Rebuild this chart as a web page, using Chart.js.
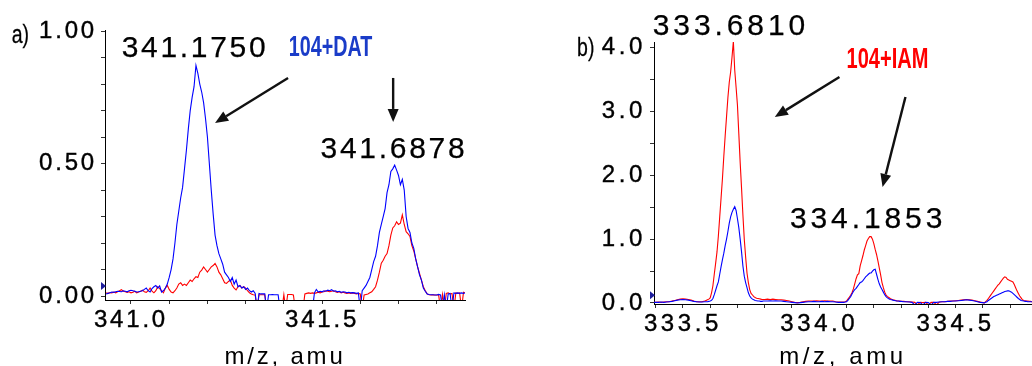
<!DOCTYPE html>
<html><head><meta charset="utf-8">
<script src="https://cdn.jsdelivr.net/npm/chart.js@4.4.1/dist/chart.umd.min.js"></script>
<style>
html,body{margin:0;padding:0;background:#fff;width:1032px;height:366px;overflow:hidden}
#ca{position:absolute;left:0;top:0}
#cb{position:absolute;left:520px;top:0}
</style></head><body>
<canvas id="ca" width="520" height="366"></canvas>
<canvas id="cb" width="512" height="366"></canvas>
<script>
// ---------- Panel a) 104+DAT ----------
const mzA = [340.935,340.94,340.945,340.95,340.955,340.96,340.965,340.97,340.975,340.98,
340.985,340.99,340.995,341.0,341.005,341.01,341.015,341.02,341.025,341.03,
341.035,341.04,341.045,341.05,341.055,341.06,341.065,341.07,341.075,341.08,
341.085,341.09,341.095,341.1,341.105,341.11,341.115,341.12,341.125,341.13,
341.135,341.14,341.145,341.15,341.155,341.16,341.165,341.17,341.175,341.18,
341.185,341.19,341.195,341.2,341.205,341.21,341.215,341.22,341.225,341.23,
341.235,341.24,341.245,341.25,341.255,341.26,341.265,341.27,341.275,341.28,
341.285,341.29,341.295,341.3,341.305,341.31,341.315,341.32,341.325,341.33,
341.335,341.34,341.345,341.35,341.355,341.36,341.365,341.37,341.375,341.38,
341.385,341.39,341.395,341.4,341.405,341.41,341.415,341.42,341.425,341.43,
341.435,341.44,341.445,341.45,341.455,341.46,341.465,341.47,341.475,341.48,
341.485,341.49,341.495,341.5,341.505,341.51,341.515,341.52,341.525,341.53,
341.535,341.54,341.545,341.55,341.555,341.56,341.565,341.57,341.575,341.58,
341.585,341.59,341.595,341.6,341.605,341.61,341.615,341.62,341.625,341.63,
341.635,341.64,341.645,341.65,341.655,341.66,341.665,341.67,341.675,341.68,
341.685,341.69,341.695,341.7,341.705,341.71,341.715,341.72,341.725,341.73,
341.735,341.74,341.745,341.75,341.755,341.76,341.765,341.77,341.775,341.78,
341.785,341.79,341.795,341.8,341.805,341.81,341.815,341.82,341.825,341.83,
341.835,341.84,341.845,341.85,341.855,341.86,341.865,341.87,341.875];
const blueA = [0.008,0.010,0.012,0.015,0.014,0.016,0.018,0.017,0.016,0.020,
0.018,0.016,0.020,0.022,0.020,0.018,0.015,0.016,0.018,0.020,
0.025,0.030,0.020,0.015,0.028,0.035,0.040,0.030,0.038,0.015,
0.020,0.030,0.045,0.070,0.100,0.140,0.200,0.270,0.320,0.370,
0.410,0.480,0.550,0.630,0.700,0.750,0.790,0.870,0.840,0.800,
0.770,0.730,0.670,0.600,0.500,0.400,0.310,0.230,0.190,0.160,
0.140,0.120,0.090,0.080,0.070,0.055,0.070,0.045,0.060,0.035,
0.040,0.030,0.035,0.025,0.030,0.020,0.015,0.020,0.010,-0.05,
0.010,0.008,0.008,0.008,-0.05,0.005,0.005,0.006,0.005,0.005,
0.005,-0.05,-0.05,-0.05,-0.05,-0.05,-0.05,-0.05,-0.05,-0.05,
-0.05,-0.05,-0.05,-0.05,-0.05,-0.05,-0.05,-0.05,-0.05,0.012,
0.025,0.015,0.018,0.016,0.020,0.018,0.022,0.020,0.024,0.018,
0.020,0.016,0.018,0.014,0.016,0.015,0.012,0.014,0.012,0.013,
0.012,0.010,0.012,-0.05,0.020,0.030,0.040,0.055,0.070,0.100,
0.130,0.150,0.190,0.240,0.270,0.300,0.330,0.390,0.420,0.470,
0.480,0.494,0.475,0.455,0.420,0.440,0.400,0.300,0.255,0.240,
0.200,0.180,0.140,0.110,0.080,0.060,0.030,0.018,0.008,0.006,
0.005,0.005,0.004,0.004,0.006,0.004,-0.05,0.005,-0.05,0.008,
0.010,-0.05,0.012,0.010,0.012,0.010,0.012,0.010,0.012];
const redA = [0.012,0.010,0.013,0.012,0.015,0.012,0.016,0.020,0.024,0.018,
0.016,0.014,0.016,0.012,0.014,0.018,0.012,0.015,0.018,0.022,
0.016,0.014,0.020,0.030,0.018,0.012,0.020,0.035,0.028,0.020,
0.012,0.030,0.040,0.025,0.015,0.012,0.020,0.030,0.045,0.050,
0.040,0.045,0.040,0.050,0.060,0.055,0.065,0.073,0.070,0.090,
0.098,0.110,0.100,0.090,0.100,0.110,0.115,0.123,0.110,0.090,
0.080,0.065,0.050,0.048,0.055,0.060,0.040,0.030,0.023,0.035,
0.040,0.030,0.035,0.030,0.020,0.012,0.008,0.005,0.004,-0.05,
0.005,0.005,0.005,0.005,-0.05,-0.05,-0.05,-0.05,-0.05,-0.05,
-0.05,-0.05,-0.05,0.005,-0.05,0.006,0.006,0.006,0.004,-0.05,
-0.05,-0.05,-0.05,-0.05,0.008,0.010,0.012,0.010,0.012,0.010,
0.012,0.014,0.012,0.015,0.016,0.020,0.018,0.016,0.018,0.020,
0.016,0.014,0.016,0.012,0.014,0.012,0.010,0.012,0.010,0.012,
0.010,0.008,0.010,0.008,-0.05,0.004,0.006,0.008,0.012,0.016,
0.025,0.035,0.060,0.090,0.124,0.135,0.150,0.160,0.190,0.230,
0.257,0.265,0.280,0.270,0.275,0.306,0.270,0.243,0.235,0.225,
0.190,0.170,0.140,0.110,0.085,0.060,0.035,0.020,0.008,0.005,
0.004,0.005,0.004,0.004,0.004,-0.05,0.006,-0.05,0.010,0.012,
0.008,0.010,-0.05,0.012,0.010,0.012,-0.05,0.014,0.012];
const xTicksA = [341.0,341.1,341.2,341.3,341.4,341.5,341.6,341.7,341.8];
const xLabelsA = ['341.0','','','','','341.5','','',''];
const yTicksA = [0,0.1,0.2,0.3,0.4,0.5,0.6,0.7,0.8,0.9,1.0];
const yLabelsA = ['0.00','','','','','0.50','','','','','1.00'];
const peakLabelsA = ['341.1750','341.6878'];

// ---------- Panel b) 104+IAM ----------
const mzB = [333.39,333.4,333.41,333.42,333.43,333.44,333.45,333.46,333.47,333.48,333.49,333.5,333.51,333.52,333.53,333.54,333.55,333.56,333.57,333.58,
333.585,333.59,333.595,333.6,333.605,333.61,333.615,333.62,333.625,333.63,333.635,333.64,333.645,333.65,333.655,333.66,333.665,333.67,333.675,333.68,333.685,333.69,333.695,333.7,333.705,333.71,333.715,333.72,333.725,333.73,333.735,333.74,333.745,333.75,333.755,333.76,333.765,333.77,333.775,333.78,333.785,333.79,333.795,333.8,
333.81,333.82,333.83,333.84,333.85,333.86,333.87,333.88,333.89,333.9,333.91,333.92,333.93,333.94,333.95,333.96,333.97,333.98,333.99,334,334.01,334.02,334.03,334.04,334.05,334.06,334.07,334.08,334.09,
334.095,334.1,334.105,334.11,334.115,334.12,334.125,334.13,334.135,334.14,334.145,334.15,334.155,334.16,334.165,334.17,334.175,334.18,334.185,334.19,334.195,334.2,334.205,334.21,334.215,334.22,334.225,334.23,334.235,334.24,334.245,334.25,334.255,334.26,334.265,334.27,334.275,334.28,334.285,334.29,334.295,334.3,
334.31,334.32,334.33,334.34,334.35,334.36,334.37,334.38,334.39,334.4,334.41,334.42,334.43,334.44,334.45,334.46,334.47,334.48,334.49,334.5,334.51,334.52,334.53,334.54,334.55,334.56,334.57,334.58,334.59,334.6,
334.605,334.61,334.615,334.62,334.625,334.63,334.635,334.64,334.645,334.65,334.655,334.66,334.665,334.67,334.675,334.68,334.685,334.69,334.695,334.7,334.705,334.71,334.715,334.72,334.725,334.73,334.735,334.74,334.745,334.75,334.755,334.76,334.765,334.77,334.775,334.78];
const blueB = [0.01,0.01,0.01,0.015,0.01,0.015,0.02,0.025,0.035,0.045,0.05,0.055,0.05,0.045,0.035,0.025,0.02,0.015,0.015,0.02,
0.02,0.02,0.025,0.03,0.04,0.07,0.13,0.20,0.27,0.33,0.45,0.57,0.68,0.78,0.90,1.00,1.12,1.25,1.35,1.42,1.47,1.51,1.45,1.32,1.18,1.00,0.80,0.58,0.42,0.32,0.24,0.16,0.11,0.08,0.06,0.05,0.04,0.035,0.03,0.03,0.025,0.025,0.03,0.03,
0.03,0.035,0.03,0.035,0.03,0.03,0.025,0.02,0.015,0.01,0.005,0.0,0.005,0.01,0.015,0.02,0.02,0.025,0.02,0.02,0.025,0.02,0.025,0.02,0.02,0.015,0.01,0.01,0.01,
0.015,0.02,0.04,0.07,0.10,0.14,0.18,0.21,0.23,0.26,0.29,0.32,0.33,0.35,0.38,0.41,0.43,0.45,0.47,0.47,0.50,0.52,0.53,0.45,0.37,0.30,0.25,0.21,0.17,0.13,0.10,0.08,0.065,0.055,0.05,0.045,0.04,0.035,0.03,0.03,0.025,0.025,
0.02,0.02,0.015,0.01,-0.03,0.01,0.008,-0.03,0.01,0.008,-0.03,0.01,0.01,0.015,0.02,0.02,0.025,0.025,0.03,0.03,0.035,0.04,0.045,0.05,0.045,0.04,0.03,0.02,0.01,0.005,
0.0,0.01,0.02,0.04,0.055,0.07,0.085,0.10,0.11,0.12,0.13,0.14,0.15,0.16,0.17,0.18,0.185,0.19,0.19,0.18,0.17,0.15,0.13,0.11,0.09,0.07,0.055,0.04,0.035,0.03,0.025,0.025,0.02,0.02,0.02,0.02];
const redB = [0.01,0.01,0.015,0.01,0.015,0.02,0.02,0.03,0.04,0.05,0.06,0.065,0.06,0.055,0.045,0.03,0.02,0.02,0.02,0.03,
0.04,0.05,0.06,0.08,0.16,0.27,0.45,0.62,0.80,1.05,1.35,1.65,1.95,2.30,2.62,2.92,3.22,3.46,3.62,3.85,4.10,3.65,3.38,3.10,2.65,2.20,1.80,1.38,1.00,0.72,0.47,0.32,0.21,0.15,0.125,0.10,0.085,0.075,0.07,0.065,0.06,0.055,0.055,0.055,
0.06,0.055,0.06,0.055,0.05,0.05,0.045,0.04,0.03,0.02,0.01,0.005,0.01,0.02,0.025,0.03,0.03,0.03,0.035,0.03,0.03,0.035,0.03,0.03,0.03,0.02,0.015,0.015,0.015,
0.02,0.03,0.06,0.09,0.12,0.16,0.22,0.30,0.38,0.44,0.46,0.58,0.66,0.74,0.83,0.90,0.97,1.01,1.04,1.04,1.00,0.93,0.84,0.76,0.66,0.55,0.44,0.32,0.24,0.17,0.125,0.10,0.085,0.07,0.06,0.05,0.045,0.04,0.03,0.03,0.03,0.025,
0.025,0.02,0.02,0.015,0.01,-0.03,0.01,0.008,0.01,-0.03,0.01,0.01,-0.03,0.015,0.02,0.02,0.025,0.03,0.03,0.035,0.04,0.045,0.05,0.055,0.05,0.045,0.035,0.025,0.015,0.005,
0.0,0.02,0.04,0.07,0.10,0.13,0.16,0.19,0.22,0.25,0.28,0.30,0.33,0.36,0.39,0.41,0.40,0.37,0.36,0.35,0.34,0.33,0.29,0.24,0.19,0.15,0.11,0.08,0.05,0.04,0.035,0.03,0.03,0.025,0.025,0.02];
const xTicksB = [333.4,333.5,333.6,333.7,333.8,333.9,334.0,334.1,334.2,334.3,334.4,334.5,334.6,334.7];
const xLabelsB = ['','333.5','','','','','334.0','','','','','334.5','',''];
const yTicksB = [0,0.5,1,1.5,2,2.5,3,3.5,4];
const yLabelsB = ['0.0','','1.0','','2.0','','3.0','','4.0'];
const peakLabelsB = ['333.6810','334.1853'];

const FONT = '"Liberation Sans", Arial, sans-serif';

function annotPlugin(spec) {
  return {
    id: 'annot',
    beforeLayout(chart){ chart.ctx.letterSpacing = spec.ls; },
    beforeDraw(chart){ chart.ctx.letterSpacing = spec.ls; },
    afterDraw(chart){
      const ctx = chart.ctx, xs = chart.scales.x, ys = chart.scales.y, ca = chart.chartArea;
      ctx.save();
      const ty = ys.getPixelForValue(spec.markerY);
      ctx.fillStyle = '#1c1c9c';
      ctx.beginPath(); ctx.moveTo(ca.left-4, ty-4); ctx.lineTo(ca.left+1, ty); ctx.lineTo(ca.left-4, ty+4); ctx.closePath(); ctx.fill();
      spec.arrows.forEach(a => {
        const x1 = xs.getPixelForValue(a[0]), y1 = ys.getPixelForValue(a[1]);
        const x2 = xs.getPixelForValue(a[2]), y2 = ys.getPixelForValue(a[3]);
        const ang = Math.atan2(y2-y1, x2-x1), L = 13, W = 5.5;
        const bx = x2 - L*Math.cos(ang), by = y2 - L*Math.sin(ang);
        ctx.strokeStyle = '#111'; ctx.lineWidth = 2.4;
        ctx.beginPath(); ctx.moveTo(x1,y1); ctx.lineTo(bx,by); ctx.stroke();
        ctx.fillStyle = '#111';
        ctx.beginPath(); ctx.moveTo(x2,y2);
        ctx.lineTo(bx - W*Math.sin(ang), by + W*Math.cos(ang));
        ctx.lineTo(bx + W*Math.sin(ang), by - W*Math.cos(ang));
        ctx.closePath(); ctx.fill();
      });
      spec.texts.forEach(t => {
        ctx.save();
        ctx.font = t.font; ctx.fillStyle = t.color; ctx.letterSpacing = t.ls;
        ctx.textAlign = t.align; ctx.textBaseline = 'alphabetic';
        ctx.translate(xs.getPixelForValue(t.x), ys.getPixelForValue(t.y));
        ctx.scale(t.sx, 1);
        ctx.fillText(t.text, 0, 0);
        if (t.stroke) { ctx.strokeStyle = t.color; ctx.lineWidth = t.stroke; ctx.strokeText(t.text, 0, 0); }
        ctx.restore();
      });
      ctx.restore();
    }
  };
}

function makeChart(id, o) {
  const axisFont = {family: FONT, size: 24};
  return new Chart(document.getElementById(id), {
    type: 'line',
    data: { datasets: [
      { data: o.mz.map((x,i)=>({x:x, y:o.blue[i]})), borderColor:'#0000ff', borderWidth:1.1, pointRadius:0, tension:0 },
      { data: o.mz.map((x,i)=>({x:x, y:o.red[i]})), borderColor:'#ff0000', borderWidth:1.1, pointRadius:0, tension:0 }
    ]},
    options: {
      responsive:false, animation:false, devicePixelRatio:1, events:[],
      layout: { padding: { left:0, top:o.padTop, right:o.padRight, bottom:0 } },
      plugins: { legend:{display:false}, tooltip:{enabled:false} },
      scales: {
        x: {
          type:'linear', min:o.xMin, max:o.xMax,
          afterBuildTicks: s => { s.ticks = o.xTicks.map(v => ({value:v})); },
          afterFit: s => { s.height = o.xAxisH; },
          ticks: { autoSkip:false, maxRotation:0, padding:2, color:'#000', font:axisFont, textStrokeColor:'#000', textStrokeWidth:0.4, callback:(v,i)=>o.xLabels[i] },
          grid: { drawOnChartArea:false, drawTicks:true, tickLength:4, color:'#333', lineWidth:1 },
          border: { display:true, color:'#000', width:1 },
          title: { display:true, text:'m/z, amu', color:'#000', font:axisFont, padding:{top:6,bottom:-6} }
        },
        y: {
          type:'linear', min:o.yMin, max:o.yMax,
          afterBuildTicks: s => { s.ticks = o.yTicks.map(v => ({value:v})); },
          afterFit: s => { s.width = o.yAxisW; },
          ticks: { autoSkip:false, padding:4, color:'#000', font:axisFont, textStrokeColor:'#000', textStrokeWidth:0.4, callback:(v,i)=>o.yLabels[i] },
          grid: { drawOnChartArea:false, drawTicks:true, tickLength:4, color:'#333', lineWidth:1 },
          border: { display:true, color:'#000', width:1 }
        }
      }
    },
    plugins: [annotPlugin(o.annot)]
  });
}

makeChart('ca', {
  mz:mzA, blue:blueA, red:redA,
  xMin:340.932, xMax:341.874, yMin:-0.015, yMax:1.004,
  xTicks:xTicksA, xLabels:xLabelsA, yTicks:yTicksA, yLabels:yLabelsA,
  padTop:30, padRight:55, xAxisH:66, yAxisW:105,
  annot: {
    ls:'2.8px', markerY:0.038,
    arrows:[[341.411,0.823,341.220,0.653],[341.686,0.823,341.686,0.657]],
    texts:[
      {text:peakLabelsA[0], x:341.1675, y:0.902, font:'30px '+FONT, color:'#000', ls:'2.7px', align:'center', sx:1, stroke:0.25},
      {text:peakLabelsA[1], x:341.688, y:0.521, font:'30px '+FONT, color:'#000', ls:'2.7px', align:'center', sx:1, stroke:0.25},
      {text:'104+DAT', x:341.522, y:0.906, font:'bold 29px '+FONT, color:'#1a3cc8', ls:'0px', align:'center', sx:0.68},
      {text:'a)', x:340.688, y:0.955, font:'26px '+FONT, color:'#000', ls:'0px', align:'left', sx:0.75, stroke:0.3}
    ]
  }
});

makeChart('cb', {
  mz:mzB, blue:blueB, red:redB,
  xMin:333.394, xMax:334.78, yMin:-0.016, yMax:4.09,
  xTicks:xTicksB, xLabels:xLabelsB, yTicks:yTicksB, yLabels:yLabelsB,
  padTop:42, padRight:0, xAxisH:62, yAxisW:134,
  annot: {
    ls:'3.6px', markerY:0.12,
    arrows:[[334.074,3.542,333.837,2.915],[334.316,3.229,334.232,1.818]],
    texts:[
      {text:peakLabelsB[0], x:333.676, y:4.20, font:'30px '+FONT, color:'#000', ls:'3.9px', align:'center', sx:1, stroke:0.25},
      {text:peakLabelsB[1], x:334.179, y:1.176, font:'30px '+FONT, color:'#000', ls:'3.9px', align:'center', sx:1, stroke:0.25},
      {text:'104+IAM', x:334.250, y:3.683, font:'bold 29px '+FONT, color:'#ff0000', ls:'0px', align:'center', sx:0.69},
      {text:'b)', x:333.112, y:3.87, font:'26px '+FONT, color:'#000', ls:'0px', align:'left', sx:0.75, stroke:0.3}
    ]
  }
});
</script>
</body></html>
